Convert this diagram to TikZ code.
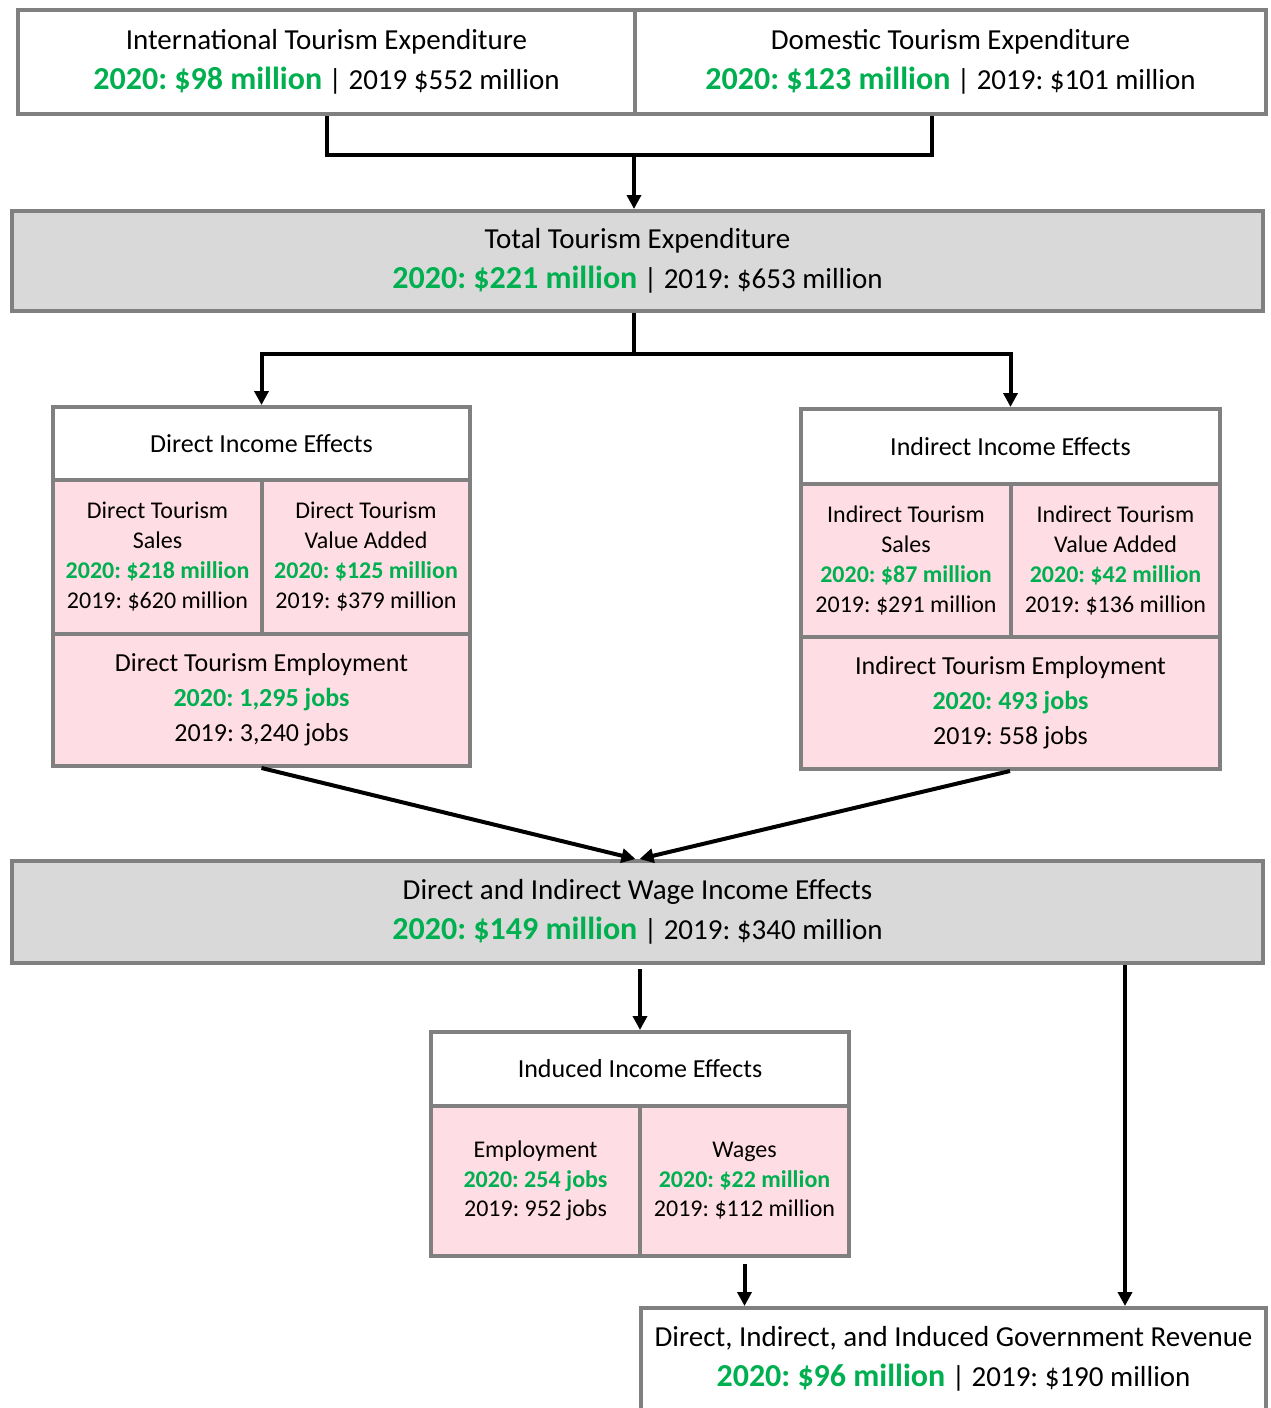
\documentclass[tikz,border=0pt]{standalone}
\usepackage{fontspec}
\setmainfont{Carlito}
\usetikzlibrary{arrows.meta}
\frenchspacing

\definecolor{boxgray}{RGB}{128,128,128}
\definecolor{fillgray}{RGB}{217,217,217}
\definecolor{cellpink}{RGB}{255,221,228}
\definecolor{newgreen}{RGB}{0,176,80}

\newcommand\greenbig[1]{{\fontsize{16}{20}\selectfont\bfseries\color{newgreen}#1}}
\newcommand\greensmall[1]{{\bfseries\color{newgreen}#1}}

\begin{document}
\begin{tikzpicture}[line join=miter, miter limit=10, x={(0.5pt,0)}, y={(0,-0.5pt)},
  box/.style={draw=boxgray, line width=2pt, inner sep=0pt, align=center},
  bigbox/.style={box, font={\fontsize{14.5}{20}\selectfont}},
  titlebox/.style={box, fill=white, font={\fontsize{13}{16}\selectfont}},
  cellbox/.style={box, fill=cellpink, font={\fontsize{12}{15}\selectfont}},
  link/.style={draw=black, line width=2pt},
  arrow/.style={link, arrows=-{Triangle[length=7pt,width=7pt]}}]
  \useasboundingbox (0,0) rectangle (1270,1408);
  \clip (0,0) rectangle (1270,1408);

  % expenditure
  \node [bigbox, fill=white, minimum width=308.5pt, minimum height=52pt] (intl) at (326.5,62)
    {International Tourism Expenditure\\ \greenbig{2020: \$98 million} | 2019 \$552 million};
  \node [bigbox, fill=white, minimum width=315.5pt, minimum height=52pt] (dom) at (950.5,62)
    {Domestic Tourism Expenditure\\ \greenbig{2020: \$123 million} | 2019: \$101 million};
  \node [bigbox, fill=fillgray, minimum width=625.5pt, minimum height=50pt] (total) at (637.5,261)
    {Total Tourism Expenditure\\ \greenbig{2020: \$221 million} | 2019: \$653 million};

  % direct effects
  \node [titlebox, minimum width=208.5pt, minimum height=36.5pt] (dtitle) at (261.5,443.5) {Direct Income Effects};
  \node [cellbox, minimum width=104.5pt, minimum height=77pt] (dsales) at (157.5,557)
    {Direct Tourism\\Sales\\\greensmall{2020: \$218 million}\\2019: \$620 million};
  \node [cellbox, minimum width=104pt, minimum height=77pt] (dvalue) at (366,557)
    {Direct Tourism\\Value Added\\\greensmall{2020: \$125 million}\\2019: \$379 million};
  \node [cellbox, font={\fontsize{13}{17.5}\selectfont}, minimum width=208.5pt, minimum height=66pt] (demp) at (261.5,700)
    {Direct Tourism Employment\\\greensmall{2020: 1,295 jobs}\\2019: 3,240 jobs};

  % indirect effects
  \node [titlebox, minimum width=209.5pt, minimum height=37.5pt] (ititle) at (1010.5,446.5) {Indirect Income Effects};
  \node [cellbox, minimum width=105pt, minimum height=76.5pt] (isales) at (906,560.5)
    {Indirect Tourism\\Sales\\\greensmall{2020: \$87 million}\\2019: \$291 million};
  \node [cellbox, minimum width=104.5pt, minimum height=76.5pt] (ivalue) at (1115.5,560.5)
    {Indirect Tourism\\Value Added\\\greensmall{2020: \$42 million}\\2019: \$136 million};
  \node [cellbox, font={\fontsize{13}{17.5}\selectfont}, minimum width=209.5pt, minimum height=66pt] (iemp) at (1010.5,703)
    {Indirect Tourism Employment\\\greensmall{2020: 493 jobs}\\2019: 558 jobs};

  \node [bigbox, fill=fillgray, minimum width=625.5pt, minimum height=51pt] (wage) at (637.5,912)
    {Direct and Indirect Wage Income Effects\\ \greenbig{2020: \$149 million} | 2019: \$340 million};

  % induced effects
  \node [titlebox, minimum width=209pt, minimum height=37pt] (ntitle) at (640,1069) {Induced Income Effects};
  \node [cellbox, font={\fontsize{12}{14.75}\selectfont}, minimum width=104.5pt, minimum height=75pt] (nemp) at (535.5,1181)
    {Employment\\\greensmall{2020: 254 jobs}\\2019: 952 jobs};
  \node [cellbox, font={\fontsize{12}{14.75}\selectfont}, minimum width=104.5pt, minimum height=75pt] (nwage) at (744.5,1181)
    {Wages\\\greensmall{2020: \$22 million}\\2019: \$112 million};

  \node [bigbox, fill=white, minimum width=312.5pt, minimum height=54pt, text depth=6pt] (rev) at (953.5,1362)
    {Direct, Indirect, and Induced Government Revenue\\ \greenbig{2020: \$96 million} | 2019: \$190 million};

  % connectors
  \coordinate (topjoin) at (634,155);
  \coordinate (split) at (634,354);
  \draw [link] (intl.south) |- (topjoin) -| ([xshift=-9.25pt]dom.south);
  \draw [arrow] (topjoin) -- (topjoin |- total.north);
  \draw [link] (split |- total.south) -- (split);
  \draw [arrow] (split) -| (dtitle.north);
  \draw [arrow] (split) -| (ititle.north);
  \draw [arrow] (demp.south) -- ([xshift=-1pt]wage.north);
  \draw [arrow] ([xshift=-0.25pt]iemp.south) -- ([xshift=1pt]wage.north);
  \draw [arrow, shorten <=2pt] (ntitle.north |- wage.south) -- (ntitle.north);
  \draw [arrow] ([xshift=85.75pt]rev.north |- wage.south) -- ([xshift=85.75pt]rev.north);
  \draw [arrow, shorten <=3pt] (nwage.south) -- (nwage.south |- rev.north);
\end{tikzpicture}
\end{document}
